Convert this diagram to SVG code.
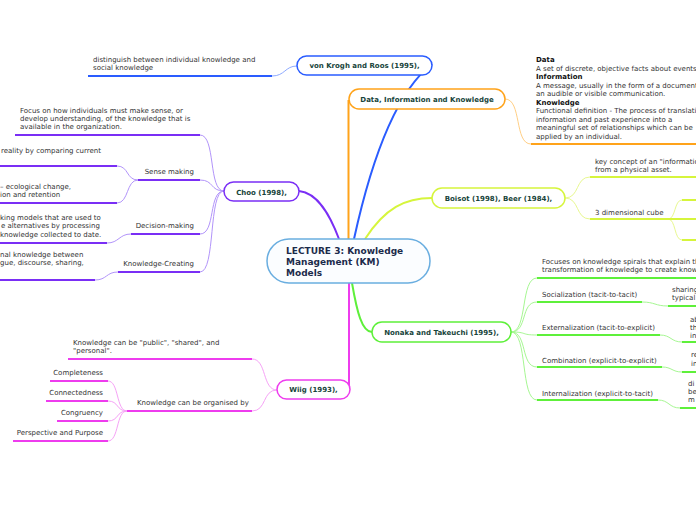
<svg xmlns="http://www.w3.org/2000/svg" width="696" height="520" viewBox="0 0 696 520">
<style>
.t{font-family:"DejaVu Sans",Verdana,sans-serif;font-size:7px;fill:#333}
.h{font-weight:bold;fill:#111}
.e{text-anchor:end}
.nl{font-family:"DejaVu Sans",Verdana,sans-serif;font-size:7px;font-weight:bold;fill:#17443a;text-anchor:middle}
.ct{font-family:"DejaVu Sans",Verdana,sans-serif;font-size:9px;font-weight:bold;fill:#1b2b4b}
.n{fill:#fff;stroke-width:1.5}
path{fill:none}
.u{stroke-width:2}
.m{stroke-width:2}
.l{stroke-width:1}
.blue{stroke:#2a5cff}.bluel{stroke:#8eaaff}
.or{stroke:#ffa31a}.orl{stroke:#ffcf85}
.ye{stroke:#d6f53c}.yel{stroke:#e8f890}
.gr{stroke:#5ef03a}.grl{stroke:#a6f792}
.mg{stroke:#ee3cee}.mgl{stroke:#f6a2f6}
.pu{stroke:#7a2ef5}.pul{stroke:#b294fa}
</style>

<g id="connectors">
  <path class="m blue" d="M354,239 C368,175 392,95 432,64"/>
  <path class="m or" d="M348.5,239 V100"/>
  <path class="m ye" d="M365,239 C385,208 405,198 432,198"/>
  <path class="m gr" d="M352,283 C357,312 362,332 372,332"/>
  <path class="m mg" d="M349,283 V388"/>
  <path class="m pu" d="M299,191 C318,193 330,215 339,239"/>

  <path class="l bluel" d="M297,66 C285,66 285,76 272,76"/>
  <path class="l orl" d="M505,99 C522,99 514,144 531,144"/>

  <path class="l yel" d="M565,198 C580,198 575,177 590,177"/>
  <path class="l yel" d="M565,198 C580,198 575,219 590,219"/>
  <path class="l yel" d="M668,219 C676,219 674,200 682,200"/>
  <path class="l yel" d="M668,219 C676,219 674,240 682,240"/>

  <path class="l grl" d="M511,332 C528,332 520,278 537,278"/>
  <path class="l grl" d="M511,332 C528,332 520,302 537,302"/>
  <path class="l grl" d="M511,332 C528,332 520,335 537,335"/>
  <path class="l grl" d="M511,332 C528,332 520,367 537,367"/>
  <path class="l grl" d="M511,332 C528,332 520,400 537,400"/>
  <path class="l grl" d="M642,302 C655,302 655,306 668,306"/>
  <path class="l grl" d="M660,335 C671,335 671,342 682,342"/>
  <path class="l grl" d="M662,367 C672,367 672,372 682,372"/>
  <path class="l grl" d="M658,400 C669,400 669,408 680,408"/>

  <path class="l mgl" d="M277,390 C262,390 267,359 252,359"/>
  <path class="l mgl" d="M277,390 C262,390 267,411 252,411"/>
  <path class="l mgl" d="M127,411 C116,411 119,381 108,381"/>
  <path class="l mgl" d="M127,411 C116,411 119,401 108,401"/>
  <path class="l mgl" d="M127,411 C116,411 119,421 108,421"/>
  <path class="l mgl" d="M127,411 C116,411 119,441 108,441"/>

  <path class="l pul" d="M224,191 C208,191 216,135 200,135"/>
  <path class="l pul" d="M224,191 C210,191 214,180 200,180"/>
  <path class="l pul" d="M224,191 C208,191 216,234 200,234"/>
  <path class="l pul" d="M224,191 C208,191 216,272 200,272"/>
  <path class="l pul" d="M138,180 C126,180 129,166 117,166"/>
  <path class="l pul" d="M138,180 C126,180 129,203 117,203"/>
  <path class="l pul" d="M131,234 C119,234 119,243 107,243"/>
  <path class="l pul" d="M118,272 C106,272 107,280 95,280"/>
</g>

<g id="center">
  <rect x="267" y="239" width="163" height="44" rx="22" fill="#fbfdff" stroke="#6aaee0" stroke-width="1.5"/>
  <text class="ct" x="286" y="254">LECTURE 3: Knowledge</text>
  <text class="ct" x="286" y="265">Management (KM)</text>
  <text class="ct" x="286" y="276">Models</text>
</g>

<g id="vonkrogh">
  <rect class="n blue" x="297" y="56" width="135" height="19" rx="9.5"/>
  <text class="nl" x="364.5" y="68">von Krogh and Roos (1995),</text>
</g>
<g id="vonkrogh-1">
  <path class="u blue" d="M88,76 H272"/>
  <text class="t" x="93" y="62">distinguish between individual knowledge and</text>
  <text class="t" x="93" y="70">social knowledge</text>
</g>

<g id="dik">
  <rect class="n or" x="349" y="89" width="156" height="20" rx="10"/>
  <text class="nl" x="427" y="102">Data, Information and Knowledge</text>
</g>
<g id="dik-1">
  <path class="u or" d="M531,144 H696"/>
  <text class="t h" x="536" y="62">Data</text>
  <text class="t" x="536" y="71">A set of discrete, objective facts about events.</text>
  <text class="t h" x="536" y="79">Information</text>
  <text class="t" x="536" y="88">A message, usually in the form of a document or</text>
  <text class="t" x="536" y="96">an audible or visible communication.</text>
  <text class="t h" x="536" y="105">Knowledge</text>
  <text class="t" x="536" y="113">Functional definition - The process of translating</text>
  <text class="t" x="536" y="122">information and past experience into a</text>
  <text class="t" x="536" y="130">meaningful set of relationships which can be</text>
  <text class="t" x="536" y="139">applied by an individual.</text>
</g>

<g id="boisot">
  <rect class="n ye" x="432" y="188" width="133" height="20" rx="10"/>
  <text class="nl" x="498.5" y="201">Boisot (1998), Beer (1984),</text>
</g>
<g id="boisot-1">
  <path class="u ye" d="M590,177 H696"/>
  <text class="t" x="595" y="164">key concept of an "information</text>
  <text class="t" x="595" y="172">from a physical asset.</text>
</g>
<g id="boisot-2">
  <path class="u ye" d="M590,219 H696"/>
  <path class="u ye" d="M682,200 H696 M682,240 H696"/>
  <text class="t" x="595" y="215">3 dimensional cube</text>
</g>

<g id="nonaka">
  <rect class="n gr" x="372" y="322" width="139" height="20" rx="10"/>
  <text class="nl" x="441.5" y="335">Nonaka and Takeuchi (1995),</text>
</g>
<g id="nonaka-1">
  <path class="u gr" d="M537,278 H696"/>
  <text class="t" x="542" y="264">Focuses on knowledge spirals that explain the</text>
  <text class="t" x="542" y="272">transformation of knowledge to create knowledge</text>
</g>
<g id="nonaka-2">
  <path class="u gr" d="M537,302 H642 M668,306 H696"/>
  <text class="t" x="542" y="297">Socialization (tacit-to-tacit)</text>
  <text class="t" x="672" y="292">sharing</text>
  <text class="t" x="672" y="300">typical</text>
</g>
<g id="nonaka-3">
  <path class="u gr" d="M537,335 H660 M682,342 H696"/>
  <text class="t" x="542" y="330">Externalization (tacit-to-explicit)</text>
  <text class="t" x="690" y="322">ab</text>
  <text class="t" x="690" y="330">th</text>
  <text class="t" x="690" y="338">in</text>
</g>
<g id="nonaka-4">
  <path class="u gr" d="M537,367 H662 M682,372 H696"/>
  <text class="t" x="542" y="363">Combination (explicit-to-explicit)</text>
  <text class="t" x="691" y="357">re</text>
  <text class="t" x="691" y="366">in</text>
</g>
<g id="nonaka-5">
  <path class="u gr" d="M537,400 H658 M680,408 H696"/>
  <text class="t" x="542" y="396">Internalization (explicit-to-tacit)</text>
  <text class="t" x="688" y="386">di</text>
  <text class="t" x="688" y="394">be</text>
  <text class="t" x="688" y="402">m</text>
</g>

<g id="wiig">
  <rect class="n mg" x="277" y="380" width="73" height="19" rx="9.5"/>
  <text class="nl" x="313.5" y="392">Wiig (1993),</text>
</g>
<g id="wiig-1">
  <path class="u mg" d="M68,359 H252"/>
  <text class="t" x="73" y="345">Knowledge can be "public", "shared", and</text>
  <text class="t" x="73" y="353">"personal".</text>
</g>
<g id="wiig-2">
  <path class="u mg" d="M127,411 H252"/>
  <text class="t" x="137" y="405">Knowledge can be organised by</text>
</g>
<g id="wiig-2a"><path class="u mg" d="M50,381 H108"/><text class="t e" x="103" y="375">Completeness</text></g>
<g id="wiig-2b"><path class="u mg" d="M46,401 H108"/><text class="t e" x="103" y="395">Connectedness</text></g>
<g id="wiig-2c"><path class="u mg" d="M57,421 H108"/><text class="t e" x="103" y="415">Congruency</text></g>
<g id="wiig-2d"><path class="u mg" d="M13,441 H108"/><text class="t e" x="103" y="435">Perspective and Purpose</text></g>

<g id="choo">
  <rect class="n pu" x="224" y="182" width="75" height="19" rx="9.5"/>
  <text class="nl" x="261.5" y="194.5">Choo (1998),</text>
</g>
<g id="choo-1">
  <path class="u pu" d="M15,135 H200"/>
  <text class="t" x="20" y="113">Focus on how individuals must make sense, or</text>
  <text class="t" x="20" y="121">develop understanding, of the knowledge that is</text>
  <text class="t" x="20" y="129">available in the organization.</text>
</g>
<g id="choo-2">
  <path class="u pu" d="M138,180 H200"/>
  <text class="t e" x="194" y="174">Sense making</text>
</g>
<g id="choo-2a">
  <path class="u pu" d="M0,166 H117"/>
  <text class="t" x="1" y="153">reality by comparing current</text>
</g>
<g id="choo-2b">
  <path class="u pu" d="M0,203 H117"/>
  <text class="t" x="0" y="189">– ecological change,</text>
  <text class="t" x="0" y="197">ion and retention</text>
</g>
<g id="choo-3">
  <path class="u pu" d="M131,234 H200"/>
  <text class="t e" x="194" y="228">Decision-making</text>
</g>
<g id="choo-3a">
  <path class="u pu" d="M0,243 H107"/>
  <text class="t" x="0" y="220">king models that are used to</text>
  <text class="t" x="1" y="228">e alternatives by processing</text>
  <text class="t" x="0" y="237">knowledge collected to date.</text>
</g>
<g id="choo-4">
  <path class="u pu" d="M118,272 H200"/>
  <text class="t e" x="194" y="266">Knowledge-Creating</text>
</g>
<g id="choo-4a">
  <path class="u pu" d="M0,280 H95"/>
  <text class="t" x="0" y="257">nal knowledge between</text>
  <text class="t" x="0" y="265">gue, discourse, sharing,</text>
</g>
</svg>
